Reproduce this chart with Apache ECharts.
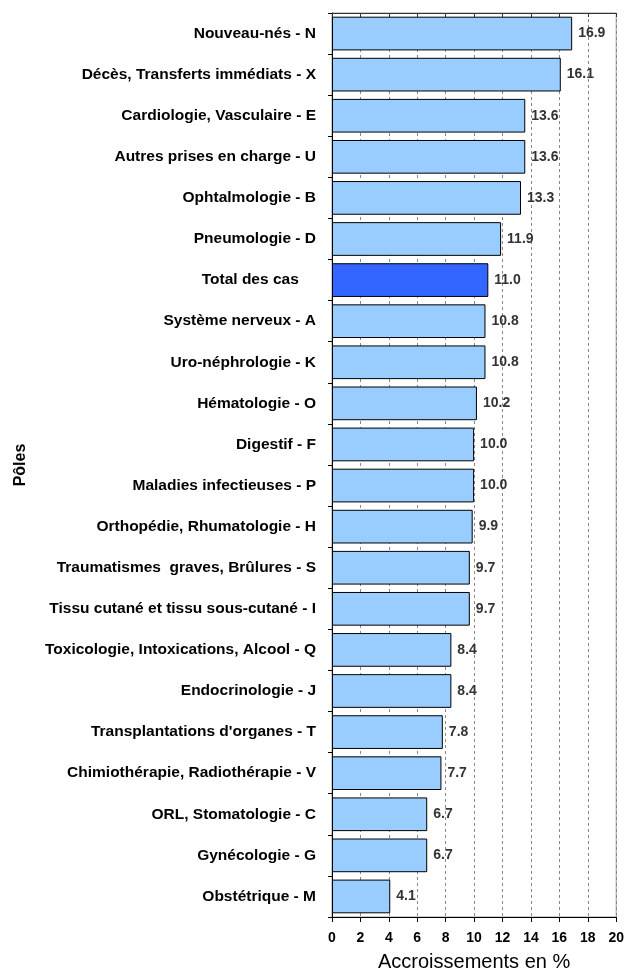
<!DOCTYPE html>
<html lang="fr">
<head>
    <meta charset="UTF-8">
    <title>Accroissements par pôle</title>
    <script src="https://cdn.jsdelivr.net/npm/echarts@6/dist/echarts.min.js"></script>
    <style>
        body { margin: 0; padding: 0; background: #ffffff; }
        #chart { width: 627px; height: 977px; }
    </style>
</head>
<body>
<div id="chart"></div>
<script>
    // données, de haut en bas
    const poles = [
        'Nouveau-nés - N', 'Décès, Transferts immédiats - X', 'Cardiologie, Vasculaire - E',
        'Autres prises en charge - U', 'Ophtalmologie - B', 'Pneumologie - D', 'Total des cas    ',
        'Système nerveux - A', 'Uro-néphrologie - K', 'Hématologie - O', 'Digestif - F',
        'Maladies infectieuses - P', 'Orthopédie, Rhumatologie - H', 'Traumatismes  graves, Brûlures - S',
        'Tissu cutané et tissu sous-cutané - I', 'Toxicologie, Intoxications, Alcool - Q',
        'Endocrinologie - J', "Transplantations d'organes - T", 'Chimiothérapie, Radiothérapie - V',
        'ORL, Stomatologie - C', 'Gynécologie - G', 'Obstétrique - M'
    ];
    const accroissements = [16.9, 16.1, 13.6, 13.6, 13.3, 11.9, 11.0, 10.8, 10.8, 10.2, 10.0,
        10.0, 9.9, 9.7, 9.7, 8.4, 8.4, 7.8, 7.7, 6.7, 6.7, 4.1];
    const totalIndex = 6;

    const chart = echarts.init(document.getElementById('chart'));
    const font = 'Arial, "Liberation Sans", sans-serif';

    chart.setOption({
        animation: false,
        grid: { left: 332, top: 13, right: 9, bottom: 59, show: true, borderColor: '#999', borderWidth: 1 },
        xAxis: [{
            type: 'value', min: 0, max: 20, interval: 2, position: 'bottom',
            name: 'Accroissements en %', nameLocation: 'middle', nameGap: 35,
            nameTextStyle: { fontFamily: font, fontSize: 20, color: '#000' },
            axisLine: { show: true, lineStyle: { color: '#000' } },
            axisTick: { show: true, inside: false, length: 5, lineStyle: { color: '#000' } },
            axisLabel: { fontFamily: font, fontWeight: 'bold', fontSize: 14, color: '#000', margin: 14 },
            splitLine: { show: true, lineStyle: { type: [3, 3], color: '#888' } }
        }, {
            type: 'value', min: 0, max: 20, interval: 2, position: 'top',
            axisLine: { show: true, lineStyle: { color: '#333' } },
            axisTick: { show: true, inside: true, length: 4, lineStyle: { color: '#333' } },
            axisLabel: { show: false },
            splitLine: { show: false }
        }],
        yAxis: {
            type: 'category', data: poles, inverse: true,
            name: 'Pôles', nameLocation: 'middle', nameGap: 303, nameRotate: 90,
            nameTextStyle: { fontFamily: font, fontWeight: 'bold', fontSize: 16, color: '#000' },
            axisLine: { show: true, lineStyle: { color: '#000' } },
            axisTick: { show: true, length: 4, lineStyle: { color: '#000' } },
            axisLabel: { fontFamily: font, fontWeight: 'bold', fontSize: 15.5, color: '#000', margin: 16 }
        },
        series: [{
            type: 'bar',
            xAxisIndex: 0,
            barCategoryGap: '18%',
            data: accroissements.map((v, i) => ({
                value: v,
                itemStyle: { color: i === totalIndex ? '#3366FF' : '#99CCFF' }
            })),
            itemStyle: { borderColor: '#000', borderWidth: 1 },
            label: {
                show: true, position: 'right', distance: 6,
                formatter: p => p.value.toFixed(1),
                fontFamily: font, fontWeight: 'bold', fontSize: 14, color: '#333'
            }
        }]
    });
</script>
</body>
</html>
